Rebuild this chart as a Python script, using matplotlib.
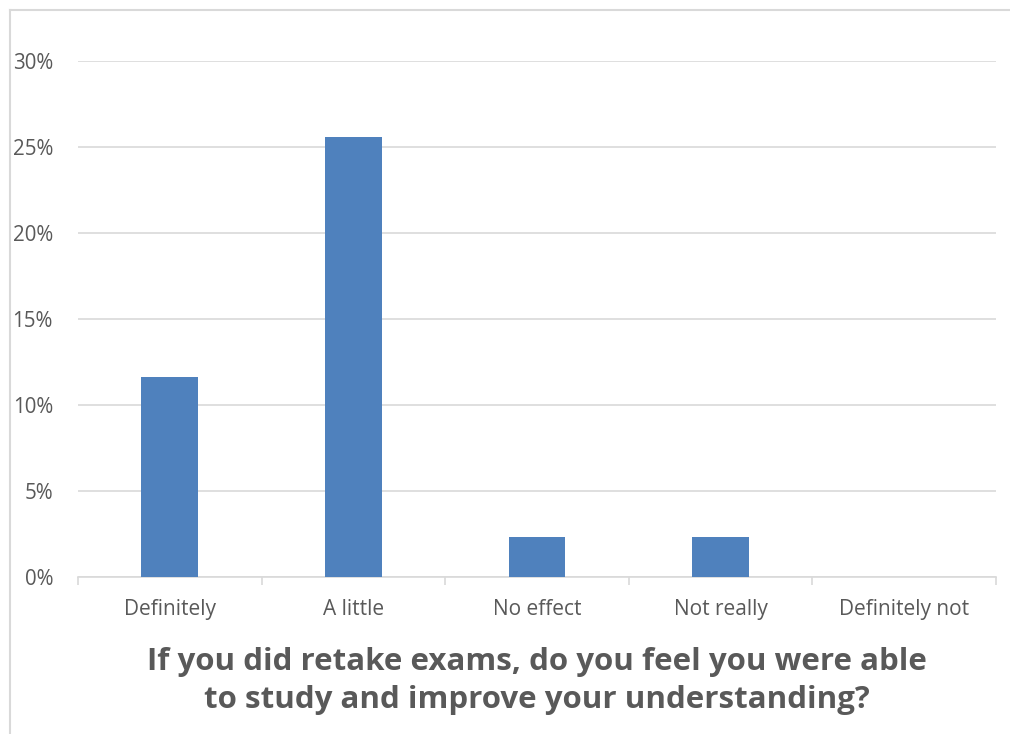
import numpy as np
import matplotlib.pyplot as plt
from matplotlib.lines import Line2D
from matplotlib.ticker import PercentFormatter

plt.rcParams['font.family'] = ['Open Sans', 'DejaVu Sans']

categories = ['Definitely', 'A little', 'No effect', 'Not really', 'Definitely not']
values = [11.63, 25.58, 2.33, 2.33, 0.0]
yticks = [0, 5, 10, 15, 20, 25, 30]
title = 'If you did retake exams, do you feel you were able\nto study and improve your understanding?'

W, H = 1010, 734
fig = plt.figure(figsize=(W/100, H/100), dpi=100)
ax = fig.add_axes([78/W, 1-577/H, (996-78)/W, (577-61)/H])

x = np.arange(len(categories))
ax.bar(x, values, width=0.31, color='#4f81bd', zorder=3)
ax.set_xlim(-0.5, len(categories)-0.5)
ax.set_ylim(0, 30)
ax.set_yticks(yticks)
ax.yaxis.set_major_formatter(PercentFormatter(decimals=0))
ax.grid(axis='y', color='#d9d9d9', lw=1.2, zorder=0)
for s in ['top', 'right', 'left']:
    ax.spines[s].set_visible(False)
ax.spines['bottom'].set_color('#d9d9d9')
ax.spines['bottom'].set_linewidth(1.2)

# category labels between boundary ticks
ax.set_xticks(x)
ax.set_xticklabels(categories, fontsize=15, color='#595959')
ax.tick_params(axis='x', length=0, pad=16)
ax.set_xticks(np.arange(-0.5, len(categories)), minor=True)
ax.tick_params(axis='x', which='minor', length=6, color='#d9d9d9', width=1.2)
ax.tick_params(axis='y', length=0, labelsize=14.8, labelcolor='#595959', pad=18)

ax.set_xlabel(title, fontsize=22.5, fontweight='bold', color='#595959', labelpad=19, linespacing=1.36)

# outer chart border (only left and top visible)
fig.add_artist(Line2D([9.5/W, 9.5/W], [0, 1-9.5/H], color='#d9d9d9', lw=1.5))
fig.add_artist(Line2D([9.5/W, 1], [1-9.5/H, 1-9.5/H], color='#d9d9d9', lw=1.5))

fig.savefig('out.png', dpi=100)
